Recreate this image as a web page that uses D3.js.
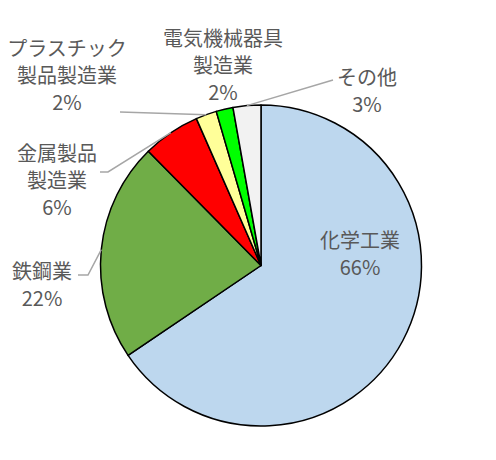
<!DOCTYPE html>
<html>
<head>
<meta charset="utf-8">
<script src="https://cdn.jsdelivr.net/npm/d3@7"></script>
<style>
  body { margin: 0; background: #fff; }
  text { font-family: "Noto Sans CJK JP", "Noto Sans", sans-serif; fill: #595959; }
</style>
</head>
<body>
<div id="chart"></div>
<script>
// data
let categories = ["化学工業", "鉄鋼業", "金属製品製造業", "プラスチック製品製造業", "電気機械器具製造業", "その他"];
let values = [65.6, 22.1, 5.8, 2.1, 1.7, 2.8];
let labelLines = [["化学工業"], ["鉄鋼業"], ["金属製品", "製造業"], ["プラスチック", "製品製造業"], ["電気機械器具", "製造業"], ["その他"]];
let colors = ["#BDD7EE", "#70AD47", "#FF0000", "#FFFF99", "#00FF00", "#F2F2F2"];

let width = 496, height = 460;
let cx = 261, cy = 265.5, radius = 160.5;
let lineH = 27;

// label layout: centre x, centre y of first line, leader start points
let layout = [
  {x: 360, y: 239, leader: null},
  {x: 42, y: 270, leader: [[78, 275], [88, 275]]},
  {x: 57, y: 152, leader: [[100, 172], [108, 172]]},
  {x: 67, y: 47, leader: [[120, 112]]},
  {x: 223, y: 37, leader: null},
  {x: 367, y: 76, leader: [[333, 80]]}
];

let svg = d3.select("#chart")
  .append("svg")
  .attr("width", width)
  .attr("height", height);

let data = categories.map((c, i) => ({name: c, value: values[i], i: i}));

let pie = d3.pie()
  .sort(null)
  .value(d => d.value);

let arc = d3.arc()
  .innerRadius(0)
  .outerRadius(radius);

let arcs = pie(data);

let g = svg.append("g")
  .attr("transform", "translate(" + cx + "," + cy + ")");

g.selectAll("path")
  .data(arcs)
  .enter().append("path")
    .attr("d", arc)
    .style("fill", d => colors[d.data.i])
    .style("stroke", "#000")
    .style("stroke-width", 1.5)
    .style("stroke-linejoin", "round");

// leader lines
arcs.forEach(function(d, i) {
  let lay = layout[i];
  if (!lay.leader) return;
  let a = (d.startAngle + d.endAngle) / 2;
  let end = [cx + Math.sin(a) * radius, cy - Math.cos(a) * radius];
  let pts = lay.leader.concat([end]);
  svg.append("path")
    .attr("d", d3.line()(pts))
    .style("fill", "none")
    .style("stroke", "#A6A6A6")
    .style("stroke-width", 1.5);
});

// labels
arcs.forEach(function(d, i) {
  let lay = layout[i];
  let lines = labelLines[i].concat([Math.round(d.data.value) + "%"]);
  let t = svg.append("g");
  lines.forEach(function(s, k) {
    t.append("text")
      .attr("x", lay.x)
      .attr("y", lay.y + k * lineH)
      .attr("text-anchor", "middle")
      .attr("dominant-baseline", "central")
      .style("font-size", "20px")
      .text(s);
  });
});
</script>
</body>
</html>
